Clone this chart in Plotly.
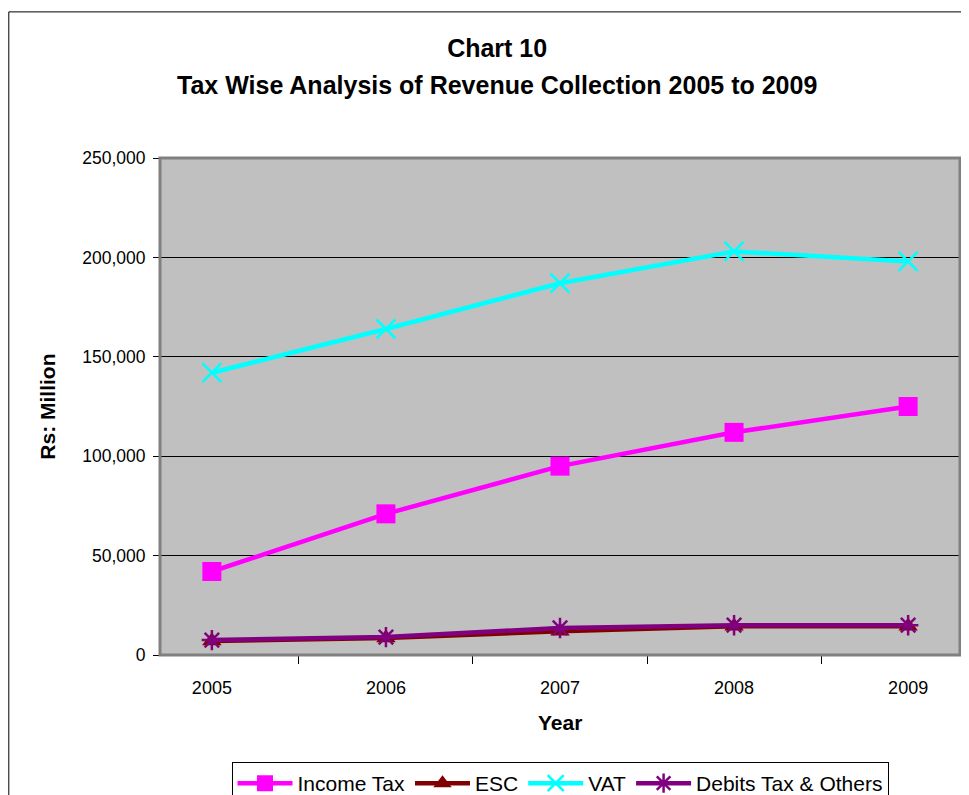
import plotly.graph_objects as go

# Revenue collection by tax type, Rs. million
years = ["2005", "2006", "2007", "2008", "2009"]
income_tax = [42000, 71000, 95000, 112000, 125000]
esc = [7000, 8500, 12000, 14500, 14500]
vat = [142000, 164000, 187000, 203000, 198000]
debits_others = [7500, 9000, 13600, 15000, 15000]

FONT = "Liberation Sans, Arial, sans-serif"

fig = go.Figure()

fig.add_trace(go.Scatter(
    x=years, y=income_tax, name="Income Tax", mode="lines+markers",
    line=dict(color="#FF00FF", width=4.5),
    marker=dict(symbol="square", size=19, color="#FF00FF"),
))
fig.add_trace(go.Scatter(
    x=years, y=esc, name="ESC", mode="lines+markers",
    line=dict(color="#800000", width=4.5),
    marker=dict(symbol="triangle-up", size=17, color="#800000"),
))
fig.add_trace(go.Scatter(
    x=years, y=vat, name="VAT", mode="lines+markers",
    line=dict(color="#00FFFF", width=4.5),
    marker=dict(symbol="x-thin", size=19, color="#00FFFF",
                line=dict(color="#00FFFF", width=2.5)),
))
fig.add_trace(go.Scatter(
    x=years, y=debits_others, name="Debits Tax & Others", mode="lines+markers",
    line=dict(color="#800080", width=4.5),
    marker=dict(symbol="asterisk", size=17, color="#800080",
                line=dict(color="#800080", width=2.5)),
))

# the page body adds an 8px offset; the legend runs off the bottom like the original
fig.update_layout(
    width=961, height=810,
    margin=dict(l=152, r=9, t=150, b=163),
    paper_bgcolor="white",
    plot_bgcolor="#C0C0C0",
    font=dict(family=FONT, size=17, color="black"),
    title=dict(
        text="<b>Chart 10</b>",
        x=0.509, xref="container", xanchor="center",
        y=1 - 40 / 810, yref="container", yanchor="middle",
        font=dict(family=FONT, size=25, color="black"),
    ),
    showlegend=True,
    legend=dict(
        orientation="h", x=0.5, xanchor="center", y=-0.2153, yanchor="top",
        bordercolor="black", borderwidth=1, bgcolor="white",
        font=dict(family=FONT, size=21), itemwidth=55,
        tracegroupgap=0,
    ),
    shapes=[
        dict(type="rect", xref="paper", yref="paper", x0=0, x1=1, y0=0, y1=1,
             line=dict(color="#808080", width=3), layer="above"),
        dict(type="rect", xref="paper", yref="paper", x0=-0.189, x1=1.05,
             y0=-0.5, y1=1.294, line=dict(color="black", width=1)),
    ],
    annotations=[
        dict(text="<b>Tax Wise Analysis of Revenue Collection 2005 to 2009</b>",
             xref="paper", yref="paper", x=0.421, y=1.147,
             xanchor="center", yanchor="middle", showarrow=False,
             font=dict(family=FONT, size=25)),
        dict(text="<b>Rs: Million</b>", xref="paper", yref="paper",
             x=-0.141, y=0.5, xanchor="center", yanchor="middle",
             textangle=-90, showarrow=False, font=dict(family=FONT, size=21)),
        dict(text="<b>Year</b>", xref="paper", yref="paper",
             x=0.5, y=-0.135, xanchor="center", yanchor="middle",
             showarrow=False, font=dict(family=FONT, size=21)),
    ],
)

fig.update_xaxes(
    type="category", tickson="boundaries", ticks="outside", ticklen=8,
    tickcolor="black", showline=True, linecolor="black", linewidth=1,
    showgrid=False, tickfont=dict(size=18), ticklabelstandoff=16,
    automargin=False,
)
fig.update_yaxes(
    range=[0, 250000], dtick=50000, tickformat=",", ticks="outside", ticklen=6,
    tickcolor="black", showline=True, linecolor="black", linewidth=1,
    gridcolor="black", gridwidth=1, zeroline=False, tickfont=dict(size=17.5),
    ticklabelstandoff=4, automargin=False,
)

fig.write_html("out.html")
